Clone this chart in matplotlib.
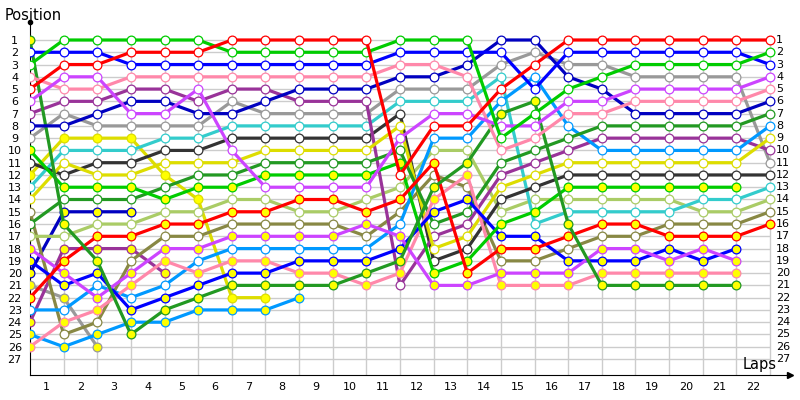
import matplotlib
matplotlib.use("Agg")
import matplotlib.pyplot as plt

# ---------------- data: position after each lap (lap 0 = grid) ----------------
laps_labels = [str(i) for i in range(1, 23)]
positions_axis = list(range(1, 28))

red_a = [5, 3, 3, 2, 2, 2, 1, 1, 1, 1, 1, 12, 8, 8, 5, 3, 1, 1, 1, 1, 1, 1, 1]
green_a = [3, 1, 1, 1, 1, 1, 2, 2, 2, 2, 2, 1, 1, 1, 9, 7, 5, 4, 3, 3, 3, 3, 2]
blue_a = [2, 2, 2, 3, 3, 3, 3, 3, 3, 3, 3, 2, 2, 2, 2, 5, 2, 2, 2, 2, 2, 2, 3]
violet_a = [6, 4, 4, 7, 7, 5, 10, 13, 13, 13, 13, 9, 7, 7, 8, 8, 6, 6, 5, 5, 5, 5, 4]
pink_a = [4, 5, 5, 4, 4, 4, 4, 4, 4, 4, 4, 3, 3, 4, 10, 9, 7, 7, 6, 6, 6, 6, 5]
navy_a = [8, 8, 7, 6, 6, 7, 7, 6, 5, 5, 5, 4, 4, 3, 1, 1, 4, 5, 7, 7, 7, 7, 6]
dkgreen_a = [16, 14, 14, 14, 13, 12, 12, 11, 11, 11, 11, 10, 16, 15, 11, 10, 9, 8, 8, 8, 8, 8, 7]
ltblue_a = [23, 23, 21, 22, 21, 19, 18, 18, 18, 18, 18, 16, 9, 9, 6, 4, 8, 10, 10, 10, 10, 10, 8]
yellow_a = [14, 11, 12, 12, 11, 11, 11, 10, 10, 10, 10, 8, 18, 17, 13, 12, 11, 11, 11, 11, 11, 11, 9]
purple_a = [7, 6, 6, 5, 5, 6, 5, 5, 6, 6, 6, 21, 17, 16, 12, 11, 10, 9, 9, 9, 9, 9, 10]
gray_a = [9, 7, 8, 8, 8, 8, 6, 7, 7, 7, 7, 5, 5, 5, 3, 2, 3, 3, 4, 4, 4, 4, 11]
black_a = [11, 12, 11, 11, 10, 10, 9, 9, 9, 9, 9, 7, 19, 18, 14, 13, 12, 12, 12, 12, 12, 12, 12]
cyan_a = [13, 10, 10, 10, 9, 9, 8, 8, 8, 8, 8, 6, 6, 6, 4, 16, 15, 15, 15, 15, 14, 14, 13]
ltgreen_a = [17, 17, 16, 16, 15, 15, 14, 14, 15, 15, 14, 13, 10, 10, 15, 14, 14, 14, 14, 14, 15, 15, 14]
olive_a = [15, 25, 24, 19, 17, 17, 16, 16, 16, 16, 17, 15, 12, 13, 19, 19, 18, 17, 17, 16, 16, 16, 15]

red_b = [22, 19, 17, 17, 16, 16, 15, 15, 14, 14, 15, 14, 11, 20, 18, 18, 17, 16, 16, 17, 17, 17, 16]
violet_b = [18, 20, 22, 20, 18, 18, 17, 17, 17, 17, 16, 17, 21, 21, 20, 20, 20, 18, 18, 19, 18, 19]
blue_b = [19, 21, 20, 23, 22, 21, 20, 20, 19, 19, 19, 18, 15, 14, 17, 17, 19, 19, 19, 18, 19, 18]
pink_b = [26, 24, 23, 21, 19, 20, 19, 19, 20, 20, 21, 20, 14, 12, 21, 21, 21, 20, 20, 20, 20, 20]
dkgreen_b = [1, 16, 19, 25, 23, 22, 21, 21, 21, 21, 20, 19, 13, 11, 7, 6, 16, 21, 21, 21, 21, 21]
green_b = [10, 13, 13, 13, 14, 13, 13, 12, 12, 12, 12, 11, 20, 19, 16, 15, 13, 13, 13, 13, 13, 13]
yellow_b = [12, 9, 9, 9, 12, 14, 22, 22]
ltblue_b = [25, 26, 25, 24, 24, 23, 23, 23, 22]
purple_b = [24, 18, 18, 18, 20]
gray_b = [21, 22, 26]
navy_b = [20, 15, 15, 15]

# ---------------- styles ----------------
C = {
    "red": "#FF0000", "green": "#00CC00", "blue": "#0000FF", "violet": "#CC44FF",
    "pink": "#FF88AA", "navy": "#0000C0", "dkgreen": "#229922", "ltblue": "#0099FF",
    "yellow": "#DDDD00", "purple": "#993399", "gray": "#999999", "black": "#333333",
    "cyan": "#33CCCC", "ltgreen": "#AACC66", "olive": "#888844",
}

series = [
    (gray_b, "gray", True), (navy_b, "navy", True), (purple_b, "purple", True),
    (ltblue_b, "ltblue", True), (yellow_b, "yellow", True),
    (olive_a, "olive", False), (ltgreen_a, "ltgreen", False), (cyan_a, "cyan", False),
    (black_a, "black", False), (gray_a, "gray", False), (purple_a, "purple", False),
    (yellow_a, "yellow", False), (ltblue_a, "ltblue", False), (dkgreen_a, "dkgreen", False),
    (pink_b, "pink", True), (blue_b, "blue", True), (violet_b, "violet", True),
    (green_b, "green", True), (red_b, "red", True), (dkgreen_b, "dkgreen", True),
    (navy_a, "navy", False), (pink_a, "pink", False), (violet_a, "violet", False),
    (blue_a, "blue", False), (green_a, "green", False), (red_a, "red", False),
]

plt.rcParams["font.family"] = ["DejaVu Sans"]
fig = plt.figure(figsize=(8, 4), dpi=100)
ax = fig.add_axes([30 / 800, 25 / 400, 760 / 800, 353 / 400])

n_laps = 22
ax.set_xlim(0, 760 / 33.636)
ax.set_ylim(27 + 16 / 12.27, 1 - 18 / 12.27)

grid_c = "#CCCCCC"
ax.hlines(positions_axis, 0, n_laps, colors=grid_c, linewidth=1, zorder=1)
ax.vlines(range(1, n_laps + 1), 1, 27 + 16 / 12.27, colors=grid_c, linewidth=1, zorder=1)

for vals, cname, filled in series:
    col = C[cname]
    xs = list(range(len(vals)))
    ax.plot(xs, vals, color=col, linewidth=2.3, zorder=3,
            marker="o", markersize=6.3, markeredgewidth=0.9,
            markeredgecolor=col, markerfacecolor="#FFFF00" if filled else "white",
            solid_capstyle="butt")

for s in ["top", "right"]:
    ax.spines[s].set_visible(False)
ax.spines["left"].set_color("black")
ax.spines["bottom"].set_color("black")

ax.set_yticks(positions_axis)
ax.set_yticklabels([str(p) for p in positions_axis], fontsize=8)
ax.tick_params(axis="y", length=0, pad=11)
for lbl in ax.get_yticklabels():
    lbl.set_horizontalalignment("center")

ax.set_xticks([i + 0.5 for i in range(n_laps)])
ax.set_xticklabels(laps_labels, fontsize=8)
ax.tick_params(axis="x", length=0, pad=5)

for p in positions_axis:
    ax.text(n_laps + 0.18, p, str(p), fontsize=8, va="center", ha="left", zorder=4)

fig.text(5 / 800, 1 - 15 / 400, "Position", fontsize=10.5, va="center", ha="left")
fig.text(760 / 800, 1 - 364 / 400, "Laps", fontsize=10.5, va="center", ha="center")

# axis arrow heads
ax.plot([0], [1 - 18 / 12.27], marker="o", markersize=3, color="black", clip_on=False)
ax.plot([760 / 33.636], [27 + 16 / 12.27], marker=">", markersize=4, color="black", clip_on=False)

fig.savefig("out.png", dpi=100)
